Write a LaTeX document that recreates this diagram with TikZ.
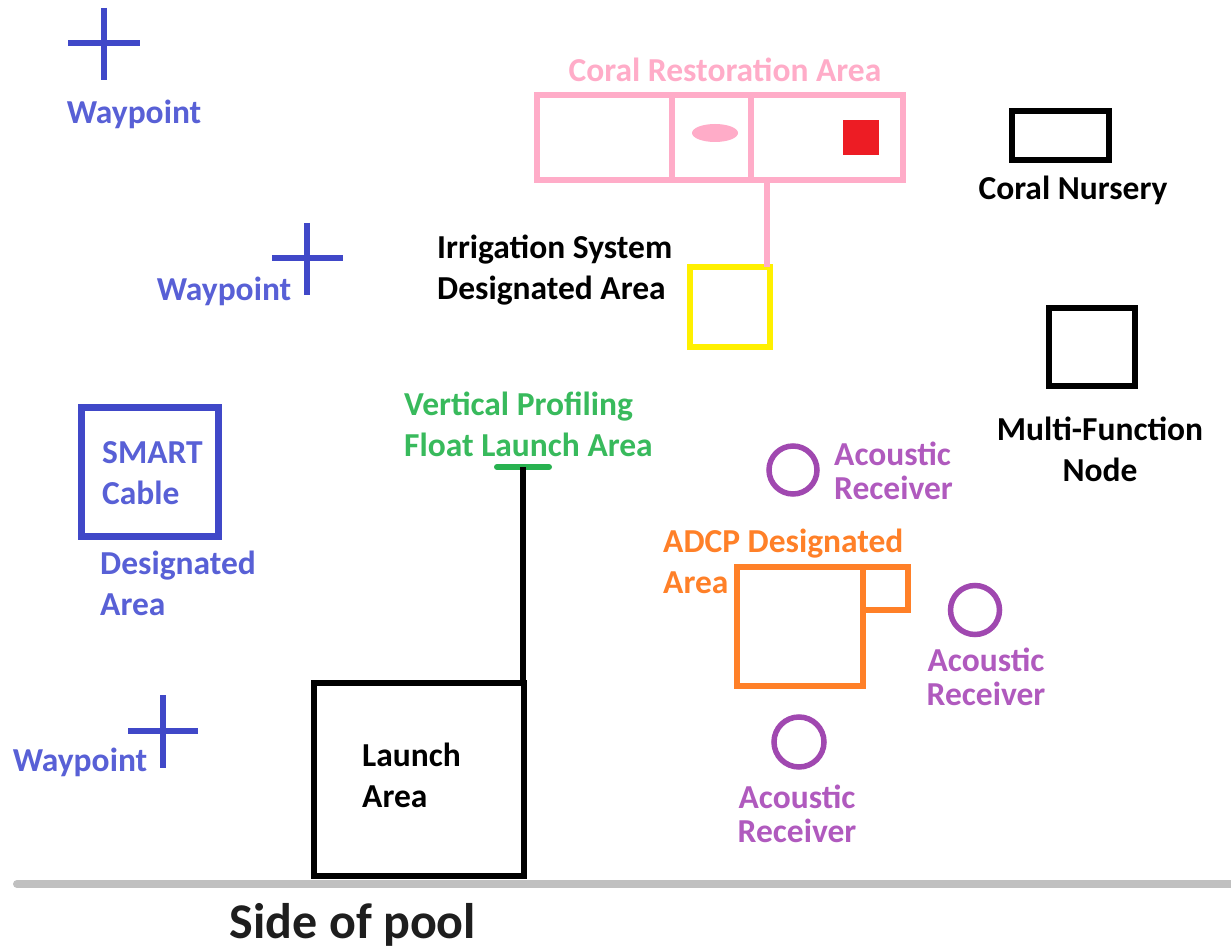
\documentclass[tikz,border=0pt]{standalone}
\usepackage{fontspec}
\usetikzlibrary{calc}
\setmainfont{Carlito}
\definecolor{wblue}{RGB}{64,72,200}
\definecolor{wtext}{RGB}{88,96,214}
\definecolor{cpink}{RGB}{255,172,200}
\definecolor{cred}{RGB}{237,28,36}
\definecolor{cyel}{RGB}{255,240,0}
\definecolor{cgreen}{RGB}{40,178,80}
\definecolor{cgtext}{RGB}{56,186,92}
\definecolor{corange}{RGB}{255,128,40}
\definecolor{cpurple}{RGB}{160,72,176}
\definecolor{cpurtext}{RGB}{176,90,190}
\definecolor{cgray}{RGB}{192,192,192}
\begin{document}
\begin{tikzpicture}[x=1pt,y=-1pt,
  lbl/.style={font=\bfseries\fontsize{33.5}{41}\selectfont, inner sep=0pt, align=left},
  lbls/.style={font=\bfseries\fontsize{33.5}{34}\selectfont, inner sep=0pt, align=left},
  wcross/.style={wblue, line width=5.5pt},
  box/.style={line width=6pt, inner sep=0pt, outer sep=0pt}]
\useasboundingbox (0,0) rectangle (1231,949);
\fill[white] (0,0) rectangle (1231,949);
% waypoints
\coordinate (w1) at (104,43);
\draw[wcross] ($(w1)+(-36,0)$) -- ($(w1)+(36,0)$) ($(w1)+(0,-35)$) -- ($(w1)+(0,37)$);
\node[lbl, text=wtext] (w1l) at (134,114) {Waypoint};
\coordinate (w2) at (307,258);
\draw[wcross] ($(w2)+(-35,0)$) -- ($(w2)+(36,0)$) ($(w2)+(0,-35)$) -- ($(w2)+(0,37)$);
\node[lbl, text=wtext] (w2l) at (224,291) {Waypoint};
\coordinate (w3) at (163,731);
\draw[wcross] ($(w3)+(-35,0)$) -- ($(w3)+(35,0)$) ($(w3)+(0,-36)$) -- ($(w3)+(0,37)$);
\node[lbl, text=wtext] (w3l) at (80,762) {Waypoint};
% coral restoration area
\node[lbl, text=cpink] (crl) at (725,70) {Coral Restoration Area};
\draw[cpink, line width=6.5pt] (537,95) rectangle (903,180);
\draw[cpink, line width=6.5pt] (672,95) -- (672,180) (751,95) -- (751,180);
\fill[cpink] (715,133) ellipse (23 and 9);
\fill[cred] (843,120) rectangle (879,155);
\coordinate (crb) at (767,182);
\node[box, draw=cyel, minimum width=80pt, minimum height=80pt] (irr) at (729.5,307.5) {};
\draw[cpink, line width=5.5pt] (crb) -- (crb |- irr.north);
\node[lbl, anchor=west] (irrl) at (437,270) {Irrigation System\\Designated Area};
% coral nursery
\node[box, draw=black, minimum width=97pt, minimum height=49pt] (cn) at (1060,136) {};
\node[lbl] (cnl) at (1073,190) {Coral Nursery};
% multi-function node
\node[box, draw=black, minimum width=86pt, minimum height=77pt] (mfn) at (1091.5,347) {};
\node[lbl, align=center] (mfnl) at (1100,449) {Multi-Function\\Node};
% SMART cable
\node[box, draw=wblue, line width=6.5pt, minimum width=137pt, minimum height=129pt] (sc) at (150,472) {};
\node[lbl, text=wtext, anchor=west] (scl) at (102,473) {SMART\\Cable};
\node[lbl, text=wtext, anchor=west] (scd) at (100,583) {Designated\\Area};
% vertical profiling
\node[lbl, text=cgtext, anchor=west] (vpl) at (404,424) {Vertical Profiling\\Float Launch Area};
\draw[cgreen, line width=6pt, line cap=round] (497,467) -- (549,467);
\coordinate (vp) at (523,467);
% launch area
\node[box, draw=black, minimum width=210pt, minimum height=193pt] (la) at (419,779.5) {};
\draw[black, line width=5.5pt] (vp) -- (vp |- la.north);
\node[lbl, anchor=west] (lal) at (362,775) {Launch\\Area};
% ADCP
\node[lbl, text=corange, anchor=west] (adl) at (663,561) {ADCP Designated\\Area};
\draw[corange, line width=6.5pt] (737,567) rectangle (863,686);
\draw[corange, line width=6.5pt] (863,567) rectangle (908,610);
% acoustic receivers
\node[draw=cpurple, circle, line width=5.5pt, minimum size=48pt, inner sep=0pt] (ar1) at (793,470) {};
\node[lbls, text=cpurtext, anchor=west] (ar1l) at (834,471) {Acoustic\\Receiver};
\node[draw=cpurple, circle, line width=5.5pt, minimum size=49pt, inner sep=0pt] (ar2) at (975,610) {};
\node[lbls, text=cpurtext, align=center] (ar2l) at (986,677) {Acoustic\\Receiver};
\node[draw=cpurple, circle, line width=5.5pt, minimum size=50pt, inner sep=0pt] (ar3) at (799,742) {};
\node[lbls, text=cpurtext, align=center] (ar3l) at (797,814) {Acoustic\\Receiver};
% pool side
\draw[cgray, line width=8pt, line cap=round] (17,884) -- (1235,884);
\node[font=\bfseries\fontsize{50}{60}\selectfont, text={rgb,255:red,30;green,30;blue,30}, inner sep=0pt] (pool) at (353,925) {Side of pool};
\end{tikzpicture}
\end{document}
